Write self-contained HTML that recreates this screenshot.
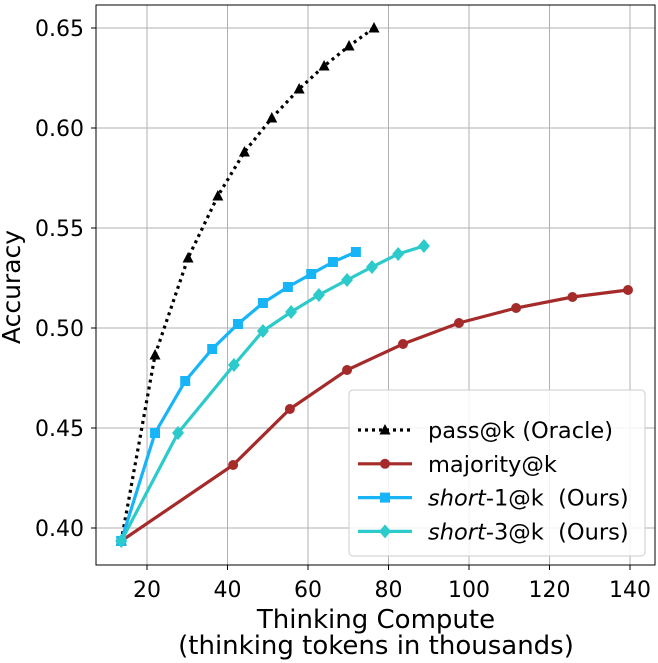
<!DOCTYPE html>
<html><head><meta charset="utf-8"><style>
body{margin:0;background:#fff}
svg{display:block;font-family:"DejaVu Sans","Liberation Sans",sans-serif}
</style></head><body>
<svg id="chart" width="658" height="663"></svg>
<script>
const xTicks=[20,40,60,80,100,120,140];
const yTicks=[0.40,0.45,0.50,0.55,0.60,0.65];
const passX=[13.6,22,30.2,37.6,44.2,51,57.8,64,70.2,76.4];
const passY=[0.3935,0.4865,0.535,0.566,0.588,0.605,0.6195,0.631,0.641,0.650];
const majX=[13.6,41.4,55.5,69.7,83.6,97.5,111.7,125.7,139.5];
const majY=[0.3935,0.4315,0.4595,0.479,0.492,0.5025,0.51,0.5155,0.519];
const s1X=[13.6,22,29.5,36.2,42.6,48.8,55,60.8,66.2,71.9];
const s1Y=[0.3935,0.4475,0.4735,0.4895,0.502,0.5125,0.5205,0.527,0.533,0.538];
const s3X=[13.6,27.7,41.6,48.8,55.8,62.7,69.7,75.9,82.4,88.8];
const s3Y=[0.3935,0.4475,0.4815,0.4985,0.508,0.5165,0.524,0.5305,0.537,0.541];

const NS="http://www.w3.org/2000/svg";
const svg=document.getElementById('chart');
const L=96,R=655,T=5,B=565;
const sx=v=>66.5+v*4.025;
const sy=v=>528-(v-0.40)*2000;
function mk(tag,attrs,parent){const e=document.createElementNS(NS,tag);for(const k in attrs)e.setAttribute(k,attrs[k]);(parent||svg).appendChild(e);return e;}
function txt(s,attrs){const e=mk('text',attrs);e.textContent=s;return e;}

xTicks.forEach(t=>{
  const g=mk('line',{x1:sx(t),x2:sx(t),y1:T,y2:B,stroke:'#b0b0b0','stroke-width':1});
  
  
  mk('line',{x1:sx(t),x2:sx(t),y1:B,y2:B+5,stroke:'#000'});
  const l=txt(String(t),{x:sx(t),y:597,'font-size':22,'text-anchor':'middle'});
  
  
});
yTicks.forEach(t=>{
  const g=mk('line',{x1:L,x2:R,y1:sy(t),y2:sy(t),stroke:'#b0b0b0','stroke-width':1});
  
  
  mk('line',{x1:L-5,x2:L,y1:sy(t),y2:sy(t),stroke:'#000'});
  const l=txt(t.toFixed(2),{x:84,y:sy(t)+8,'font-size':22,'text-anchor':'end'});
  
  
});
const frame=mk('rect',{x:L,y:T,width:R-L,height:B-T,fill:'none',stroke:'#000','stroke-width':1});



function marker(type,x,y,color,parent){
  if(type==='tri')return mk('polygon',{points:`${x},${y-6} ${x-5.5},${y+4.5} ${x+5.5},${y+4.5}`,fill:color},parent);
  if(type==='circ')return mk('circle',{cx:x,cy:y,r:5,fill:color},parent);
  if(type==='sq')return mk('rect',{x:x-5,y:y-5,width:10,height:10,fill:color},parent);
  return mk('polygon',{points:`${x},${y-7} ${x+6},${y} ${x},${y+7} ${x-6},${y}`,fill:color},parent);
}
function series(xs,ys,color,dash,type,name){
  const g=mk('g',{});
  
  
  const pts=xs.map((x,i)=>sx(x)+','+sy(ys[i])).join(' ');
  mk('polyline',{points:pts,fill:'none',stroke:color,'stroke-width':3.2,'stroke-dasharray':dash||'none'},g);
  xs.forEach((x,i)=>{const m=marker(type,sx(x),sy(ys[i]),color,g);
    
    });
}
series(passX,passY,'#000','3,4','tri','pass-series');
series(majX,majY,'#a52a2a',null,'circ','majority-series');
series(s1X,s1Y,'#18b4f8',null,'sq','short1-series');
series(s3X,s3Y,'#2ccaca',null,'dia','short3-series');

// legend
const lg=mk('g',{});


mk('rect',{x:349,y:390,width:296,height:166,rx:4,fill:'#fff','fill-opacity':0.85,stroke:'#ccc'},lg);
const entries=[['pass@k (Oracle)','#000','3,4','tri',null],['majority@k','#a52a2a',null,'circ',null],['short','#18b4f8',null,'sq','-1@k  (Ours)'],['short','#2ccaca',null,'dia','-3@k  (Ours)']];
entries.forEach((e,i)=>{
  const y=430+i*33.8;
  const eg=mk('g',{},lg);
  
  
  mk('line',{x1:358,x2:412,y1:y,y2:y,stroke:e[1],'stroke-width':3.2,'stroke-dasharray':e[2]||'none'},eg);
  marker(e[3],385,y,e[1],eg);
  const t=mk('text',{x:428,y:y+8,'font-size':22.5},eg);
  t.setAttribute('style','white-space:pre');
  if(e[4]){const a=mk('tspan',{'font-style':'italic'},t);a.textContent=e[0];const b=mk('tspan',{},t);b.textContent=e[4];}
  else t.textContent=e[0];
});

const xl=txt('Thinking Compute',{x:376,y:628,'font-size':26,'text-anchor':'middle'});


const xl2=txt('(thinking tokens in thousands)',{x:376,y:654,'font-size':26,'text-anchor':'middle'});


const yl=txt('Accuracy',{x:0,y:0,'font-size':25,'text-anchor':'middle',transform:'translate(20,287) rotate(-90)'});


</script>
</body></html>
